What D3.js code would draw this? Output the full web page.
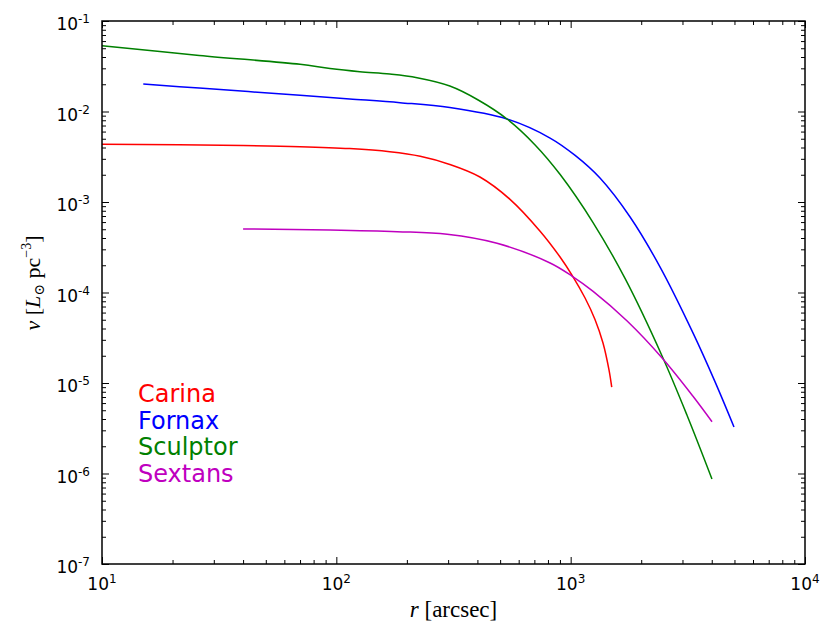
<!DOCTYPE html>
<html>
<head>
<meta charset="utf-8">
<script src="https://cdn.jsdelivr.net/npm/d3@7"></script>
<style>
  body { margin: 0; background: #fff; }
  text { fill: #000; }
</style>
</head>
<body>
<svg id="chart" width="822" height="633"></svg>
<script>
// radius in arcsec, luminosity density in L_sun pc^-3
const carinaR = [10, 40, 70, 114, 169, 228, 305, 410, 551, 739, 901, 1013, 1152, 1270, 1374, 1458, 1497];
const carinaNu = [4.35e-3, 4.21e-3, 4.09e-3, 3.89e-3, 3.59e-3, 3.20e-3, 2.60e-3, 1.89e-3, 1.07e-3, 4.79e-4, 2.47e-4, 1.56e-4, 8.69e-5, 5.04e-5, 2.77e-5, 1.39e-5, 9.0e-6];

const fornaxR = [15, 26, 70, 114, 187, 305, 535, 817, 1045, 1334, 1793, 2408, 3330, 4133, 4977];
const fornaxNu = [2.01e-2, 1.815e-2, 1.51e-2, 1.377e-2, 1.253e-2, 1.106e-2, 8.26e-3, 5.09e-3, 3.27e-3, 1.84e-3, 6.83e-4, 1.91e-4, 3.56e-5, 1.03e-5, 3.27e-6];

const sculptorR = [10, 26, 70, 94, 126, 169, 221, 305, 403, 535, 705, 902, 1246, 1706, 2455, 3140, 4008];
const sculptorNu = [5.33e-2, 4.16e-2, 3.32e-2, 2.98e-2, 2.75e-2, 2.59e-2, 2.36e-2, 1.91e-2, 1.34e-2, 8.26e-3, 4.27e-3, 2.01e-3, 5.93e-4, 1.43e-4, 1.99e-5, 4.38e-6, 8.7e-7];

const sextansR = [40, 94, 182, 297, 485, 817, 1013, 1247, 1742, 2456, 3327, 4011];
const sextansNu = [5.04e-4, 4.91e-4, 4.70e-4, 4.40e-4, 3.50e-4, 2.12e-4, 1.52e-4, 1.03e-4, 4.84e-5, 1.89e-5, 7.14e-6, 3.73e-6];

const galaxies = ["Carina", "Fornax", "Sculptor", "Sextans"];
const colors = ["#ff0000", "#0000ff", "#008000", "#bf00bf"];

const xTickExps = [1, 2, 3, 4];
const yTickExps = [-7, -6, -5, -4, -3, -2, -1];

const seriesR = [carinaR, fornaxR, sculptorR, sextansR];
const seriesNu = [carinaNu, fornaxNu, sculptorNu, sextansNu];

const plotLeft = 102, plotTop = 21, plotRight = 805, plotBottom = 564;
const svg = d3.select("#chart");

const x = d3.scaleLog().domain([10, 1e4]).range([plotLeft, plotRight]);
const y = d3.scaleLog().domain([1e-7, 1e-1]).range([plotBottom, plotTop]);

// curves
const line = d3.line()
  .x(d => x(d[0]))
  .y(d => y(d[1]))
  .curve(d3.curveCatmullRom.alpha(0.5));

galaxies.forEach((g, i) => {
  const pts = seriesR[i].map((r, j) => [r, seriesNu[i][j]]);
  svg.append("path")
    .attr("d", line(pts))
    .attr("fill", "none")
    .attr("stroke", colors[i])
    .attr("stroke-width", 1.5);
});

// ticks, inward on all four sides
const xMajor = xTickExps.map(e => Math.pow(10, e));
const yMajor = yTickExps.map(e => Math.pow(10, e));
const xMinor = [], yMinor = [];
xMajor.slice(0, -1).forEach(d => { for (let k = 2; k < 10; k++) xMinor.push(d * k); });
yMajor.slice(0, -1).forEach(d => { for (let k = 2; k < 10; k++) yMinor.push(d * k); });

function addAxis(axisFn, scale, vals, size, transform) {
  const g = svg.append("g")
    .attr("transform", transform)
    .call(axisFn(scale).tickValues(vals).tickSize(size).tickSizeOuter(0).tickFormat(""));
  g.select(".domain").remove();
  g.selectAll("line").attr("stroke", "#000").attr("stroke-width", 1);
}
[[xMajor, 7], [xMinor, 4]].forEach(([vals, len]) => {
  addAxis(d3.axisBottom, x, vals, -len, `translate(0,${plotBottom})`);
  addAxis(d3.axisTop, x, vals, -len, `translate(0,${plotTop})`);
});
[[yMajor, 7], [yMinor, 4]].forEach(([vals, len]) => {
  addAxis(d3.axisLeft, y, vals, -len, `translate(${plotLeft},0)`);
  addAxis(d3.axisRight, y, vals, -len, `translate(${plotRight},0)`);
});

// frame
svg.append("rect")
  .attr("x", plotLeft).attr("y", plotTop)
  .attr("width", plotRight - plotLeft).attr("height", plotBottom - plotTop)
  .attr("fill", "none").attr("stroke", "#000").attr("stroke-width", 1.5);

// tick labels
const tickFont = "'DejaVu Sans', sans-serif";
xTickExps.forEach(e => {
  const t = svg.append("text")
    .attr("x", x(Math.pow(10, e))).attr("y", plotBottom + 26)
    .attr("text-anchor", "middle")
    .attr("font-family", tickFont).attr("font-size", 17);
  t.append("tspan").text("10");
  t.append("tspan").attr("dy", -7).attr("font-size", 12).text(e);
});
yTickExps.forEach(e => {
  const t = svg.append("text")
    .attr("x", 90).attr("y", y(Math.pow(10, e)) + 9)
    .attr("text-anchor", "end")
    .attr("font-family", tickFont).attr("font-size", 17);
  t.append("tspan").text("10");
  t.append("tspan").attr("dy", -7).attr("font-size", 12).text(e);
});

// axis labels
const serif = "'Liberation Serif', 'DejaVu Serif', serif";
const xl = svg.append("text")
  .attr("x", (plotLeft + plotRight) / 2).attr("y", 617)
  .attr("text-anchor", "middle")
  .attr("font-family", serif).attr("font-size", 23);
xl.append("tspan").attr("font-style", "italic").text("r");
xl.append("tspan").text(" [arcsec]");

const yl = svg.append("text")
  .attr("transform", "translate(40,283) rotate(-90)")
  .attr("text-anchor", "middle")
  .attr("font-family", serif).attr("font-size", 22);
yl.append("tspan").attr("font-style", "italic").text("ν");
yl.append("tspan").text(" [");
yl.append("tspan").attr("font-style", "italic").text("L");
yl.append("tspan").attr("dy", 4).attr("font-size", 14).text("⊙");
yl.append("tspan").attr("dy", -4).text(" pc");
yl.append("tspan").attr("dy", -9).attr("font-size", 14).text("−3");
yl.append("tspan").attr("dy", 9).text("]");

// legend text
galaxies.forEach((g, i) => {
  svg.append("text")
    .attr("x", 138).attr("y", 402 + i * 26.7)
    .attr("font-family", tickFont).attr("font-size", 24)
    .style("fill", colors[i])
    .text(g);
});
</script>
</body>
</html>
